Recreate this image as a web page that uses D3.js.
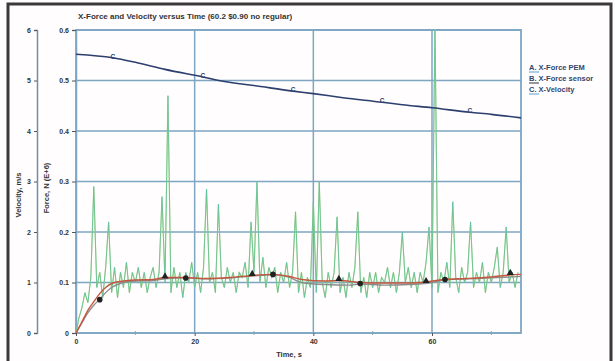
<!DOCTYPE html>
<html>
<head>
<meta charset="utf-8">
<script src="https://cdn.jsdelivr.net/npm/d3@7"></script>
<style>
  body { margin: 0; background: #fff; }
  svg { font-family: "Liberation Sans", Arial, sans-serif; }
  .tick text { font-size: 7px; font-weight: bold; fill: #333; }
</style>
</head>
<body>
<div id="chart"></div>
<script>
const W = 615, H = 361
const PLOT = { LEFT: 76, RIGHT: 521, TOP: 30, BOTTOM: 333 }

// raw sensor trace, dt = 0.5 s
const sensorDt = 0.5
const sensorRaw = [
  0.00, 0.03, 0.05, 0.08, 0.06, 0.11, 0.29, 0.09, 0.12, 0.07,
  0.13, 0.22, 0.08, 0.13, 0.07, 0.12, 0.09, 0.14, 0.08, 0.12,
  0.10, 0.13, 0.09, 0.12, 0.08, 0.11, 0.13, 0.09, 0.12, 0.27,
  0.10, 0.47, 0.08, 0.13, 0.09, 0.12, 0.07, 0.12, 0.10, 0.14,
  0.09, 0.12, 0.08, 0.13, 0.285, 0.10, 0.12, 0.08, 0.255, 0.11,
  0.09, 0.13, 0.10, 0.12, 0.08, 0.12, 0.11, 0.14, 0.09, 0.22,
  0.12, 0.30, 0.10, 0.15, 0.09, 0.13, 0.11, 0.13, 0.08, 0.12,
  0.10, 0.14, 0.09, 0.12, 0.24, 0.08, 0.12, 0.07, 0.11, 0.09,
  0.26, 0.08, 0.30, 0.10, 0.07, 0.12, 0.09, 0.12, 0.23, 0.08,
  0.11, 0.07, 0.12, 0.09, 0.13, 0.24, 0.08, 0.11, 0.07, 0.12,
  0.09, 0.12, 0.08, 0.11, 0.10, 0.13, 0.09, 0.12, 0.08, 0.12,
  0.20, 0.10, 0.13, 0.09, 0.12, 0.08, 0.12, 0.10, 0.14, 0.21,
  0.09, 0.61, 0.08, 0.12, 0.10, 0.14, 0.09, 0.26, 0.11, 0.08,
  0.13, 0.10, 0.12, 0.22, 0.09, 0.12, 0.10, 0.14, 0.08, 0.12,
  0.10, 0.13, 0.17, 0.09, 0.12, 0.21, 0.10, 0.12, 0.09, 0.12
]

// A. X-Force PEM (smooth)
const pemT = [0, 1, 2, 3, 4, 5, 6, 8, 10, 13, 15, 18, 22, 26, 29.7, 33, 36, 38, 42, 44.3, 48, 52, 56, 59, 62, 66, 70, 73.2, 75]
const pemF = [0, 0.022, 0.045, 0.062, 0.078, 0.09, 0.098, 0.103, 0.105, 0.106, 0.11, 0.11, 0.108, 0.11, 0.114, 0.116, 0.112, 0.106, 0.103, 0.104, 0.1, 0.099, 0.099, 0.101, 0.106, 0.108, 0.111, 0.115, 0.116]

// B. X-Force sensor (filtered)
const sensT = [0, 1, 2, 3, 4, 5, 6, 8, 10, 13, 15, 18.5, 22, 26, 30, 33.2, 36, 38, 42, 46, 47.9, 52, 56, 60, 62.2, 66, 70, 75]
const sensF = [0, 0.02, 0.04, 0.055, 0.067, 0.08, 0.09, 0.1, 0.103, 0.104, 0.107, 0.109, 0.107, 0.109, 0.113, 0.115, 0.11, 0.1, 0.096, 0.095, 0.097, 0.095, 0.096, 0.1, 0.105, 0.107, 0.109, 0.112]

// C. X-Velocity, m/s
const velT = [0, 6.2, 10, 15, 21.4, 25, 30, 36.6, 40, 45, 51.6, 55, 60, 66.4, 70, 75]
const velV = [5.52, 5.45, 5.36, 5.22, 5.07, 4.98, 4.9, 4.79, 4.74, 4.66, 4.57, 4.52, 4.46, 4.37, 4.33, 4.26]

// symbol positions
const markA_T = [15, 29.7, 44.3, 59, 73.2]
const markA_F = [0.11, 0.115, 0.105, 0.101, 0.117]
const markB_T = [4, 18.5, 33.2, 47.9, 62.2]
const markB_F = [0.066, 0.109, 0.116, 0.098, 0.106]
const markC_T = [6.2, 21.4, 36.6, 51.6, 66.4]
const markC_V = [5.45, 5.07, 4.79, 4.57, 4.37]

const xTicks = [0, 20, 40, 60]
const xMinor = [10, 30, 50, 70]
const forceTicks = [0, 0.1, 0.2, 0.3, 0.4, 0.5, 0.6]
const velTicks = [0, 1, 2, 3, 4, 5, 6]
const legendItems = ["A. X-Force PEM", "B. X-Force sensor", "C. X-Velocity"]

const GRID = "#7ea6c2"
const NAVY = "#2d3f6e"

const svg = d3.select("#chart").append("svg")
  .attr("width", W).attr("height", H)

svg.append("rect").attr("width", W).attr("height", H).attr("fill", "#fffdfd")

const x = d3.scaleLinear().domain([0, 75]).range([PLOT.LEFT, PLOT.RIGHT])
const y = d3.scaleLinear().domain([0, 0.6]).range([PLOT.BOTTOM, PLOT.TOP])
const v = d3.scaleLinear().domain([0, 6]).range([PLOT.BOTTOM, PLOT.TOP])

svg.append("defs").append("clipPath").attr("id", "plotclip")
  .append("rect")
    .attr("x", PLOT.LEFT).attr("y", PLOT.TOP - 1)
    .attr("width", PLOT.RIGHT - PLOT.LEFT).attr("height", PLOT.BOTTOM - PLOT.TOP + 1)

// grid
svg.append("g").selectAll("line.h").data(forceTicks).join("line")
  .attr("x1", PLOT.LEFT).attr("x2", PLOT.RIGHT)
  .attr("y1", d => y(d)).attr("y2", d => y(d))
  .attr("stroke", GRID).attr("stroke-width", 1.5)

svg.append("g").selectAll("line.v").data(xTicks.slice(1)).join("line")
  .attr("x1", d => x(d)).attr("x2", d => x(d))
  .attr("y1", PLOT.TOP).attr("y2", PLOT.BOTTOM)
  .attr("stroke", GRID).attr("stroke-width", 1.5)

svg.append("rect")
  .attr("x", PLOT.LEFT).attr("y", PLOT.TOP)
  .attr("width", PLOT.RIGHT - PLOT.LEFT).attr("height", PLOT.BOTTOM - PLOT.TOP)
  .attr("fill", "none").attr("stroke", GRID).attr("stroke-width", 1.8)

// force axis
const fAxis = svg.append("g")
  .attr("transform", `translate(${PLOT.LEFT},0)`)
  .call(d3.axisLeft(y).tickValues(forceTicks).tickSize(4)
    .tickFormat(d => d === 0 ? "0" : d3.format(".1f")(d)))
fAxis.select(".domain").attr("stroke", GRID).attr("stroke-width", 1.5)
fAxis.selectAll(".tick line").attr("stroke", "#555")

// velocity axis
const vAxis = svg.append("g")
  .attr("transform", "translate(37,0)")
  .call(d3.axisLeft(v).tickValues(velTicks).tickSize(3).tickFormat(d3.format("d")))
vAxis.select(".domain").attr("stroke", "#6f8fa8").attr("stroke-width", 1.5)
vAxis.selectAll(".tick line").attr("stroke", "#555")

// time axis
const tAxis = svg.append("g")
  .attr("transform", `translate(0,${PLOT.BOTTOM})`)
  .call(d3.axisBottom(x).tickValues(xTicks).tickSize(3).tickFormat(d3.format("d")))
tAxis.select(".domain").remove()
tAxis.selectAll(".tick line").attr("stroke", "#555")

svg.append("g").selectAll("line").data(xMinor).join("line")
  .attr("x1", d => x(d)).attr("x2", d => x(d))
  .attr("y1", PLOT.BOTTOM - 2).attr("y2", PLOT.BOTTOM + 2)
  .attr("stroke", "#8aa").attr("stroke-width", 1)

// axis titles
svg.append("text")
  .attr("transform", "translate(21,195) rotate(-90)")
  .attr("text-anchor", "middle").attr("font-size", 7.5).attr("font-weight", "bold")
  .attr("fill", "#333").text("Velocity, m/s")

svg.append("text")
  .attr("transform", "translate(49,188) rotate(-90)")
  .attr("text-anchor", "middle").attr("font-size", 7.5).attr("font-weight", "bold")
  .attr("fill", "#333").text("Force, N (E+6)")

svg.append("text")
  .attr("x", 289).attr("y", 357)
  .attr("text-anchor", "middle").attr("font-size", 7.5).attr("font-weight", "bold")
  .attr("fill", "#333").text("Time, s")

svg.append("text")
  .attr("x", 78).attr("y", 19)
  .attr("font-size", 8).attr("font-weight", "bold")
  .attr("fill", "#333").text("X-Force and Velocity versus Time (60.2 $0.90 no  regular)")

// series
const plot = svg.append("g").attr("clip-path", "url(#plotclip)")

const rawLine = d3.line()
  .x((d, i) => x(i * sensorDt))
  .y(d => y(d))

plot.append("path").datum(sensorRaw)
  .attr("d", rawLine).attr("fill", "none")
  .attr("stroke", "#a3d16a").attr("stroke-width", 1.1)
plot.append("path").datum(sensorRaw)
  .attr("d", rawLine).attr("fill", "none")
  .attr("stroke", "#52bdb5").attr("stroke-width", 0.6)

const smooth = d3.line().curve(d3.curveMonotoneX)
  .x(d => x(d[0])).y(d => y(d[1]))

plot.append("path").datum(d3.zip(sensT, sensF))
  .attr("d", smooth).attr("fill", "none")
  .attr("stroke", "#8c8c8c").attr("stroke-width", 1.3)

plot.append("path").datum(d3.zip(pemT, pemF))
  .attr("d", smooth).attr("fill", "none")
  .attr("stroke", "#c4583e").attr("stroke-width", 1.4)

plot.append("path").datum(d3.zip(velT, velV))
  .attr("d", d3.line().curve(d3.curveMonotoneX).x(d => x(d[0])).y(d => v(d[1])))
  .attr("fill", "none").attr("stroke", NAVY).attr("stroke-width", 1.6)

// symbols
const tri = d3.symbol().type(d3.symbolTriangle).size(22)
svg.append("g").selectAll("path").data(d3.zip(markA_T, markA_F)).join("path")
  .attr("d", tri)
  .attr("transform", d => `translate(${x(d[0])},${y(d[1]) - 1})`)
  .attr("fill", "#222")

svg.append("g").selectAll("circle").data(d3.zip(markB_T, markB_F)).join("circle")
  .attr("cx", d => x(d[0])).attr("cy", d => y(d[1]))
  .attr("r", 2.8).attr("fill", "#222")

svg.append("g").selectAll("text").data(d3.zip(markC_T, markC_V)).join("text")
  .attr("x", d => x(d[0])).attr("y", d => v(d[1]) + 1)
  .attr("text-anchor", "middle").attr("font-size", 6.5).attr("font-weight", "bold")
  .attr("fill", NAVY).text("C")

// legend
const leg = svg.append("g").attr("transform", "translate(521,70)")
leg.selectAll("text").data(legendItems).join("text")
  .attr("x", 8).attr("y", (d, i) => i * 11)
  .attr("font-size", 7.5).attr("font-weight", "bold")
  .attr("fill", "#33466e").text(d => d)
leg.selectAll("line").data(legendItems).join("line")
  .attr("x1", 8).attr("x2", 18)
  .attr("y1", (d, i) => i * 11 + 2).attr("y2", (d, i) => i * 11 + 2)
  .attr("stroke", (d, i) => ["#5a9fd0", "#333", "#5a9fd0"][i]).attr("stroke-width", 1)

// outer frame
svg.append("rect")
  .attr("x", 8).attr("y", 4).attr("width", 603).attr("height", H)
  .attr("fill", "none").attr("stroke", "#3a3a3a").attr("stroke-width", 3)
</script>
</body>
</html>
